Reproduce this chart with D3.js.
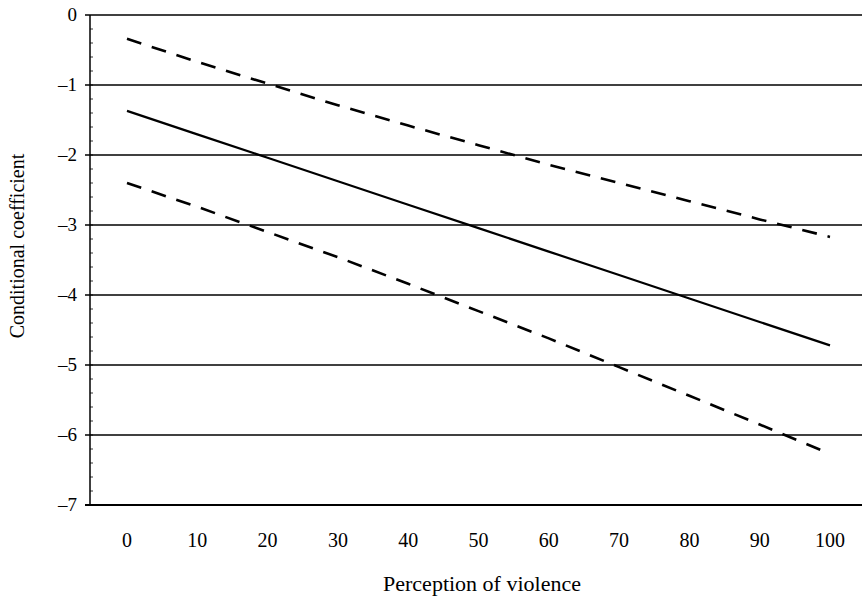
<!DOCTYPE html>
<meta charset="utf-8">
<style>
body { margin: 0; background: #fff; }
text { font-family: "Liberation Serif", "DejaVu Serif", serif; fill: #000; }
</style>
<body>
<svg width="863" height="604"></svg>
<script src="https://d3js.org/d3.v7.min.js"></script>
<script>
// perception of violence (x categories)
var xCats = [0, 10, 20, 30, 40, 50, 60, 70, 80, 90, 100];
// conditional coefficient and its bounds
var coef  = [-1.37, -1.705, -2.04, -2.375, -2.71, -3.045, -3.38, -3.715, -4.05, -4.385, -4.72];
var upper = [-0.34, -0.67, -0.98, -1.29, -1.58, -1.86, -2.14, -2.40, -2.66, -2.92, -3.17];
var lower = [-2.40, -2.74, -3.10, -3.46, -3.84, -4.23, -4.62, -5.03, -5.44, -5.85, -6.27];
var yTicks = [0, -1, -2, -3, -4, -5, -6, -7];

var svg = d3.select("svg");

var plotL = 90, plotR = 862, plotT = 15, plotB = 505;

var x = d3.scaleLinear().domain([0, 100]).range([127, 830]);
var y = d3.scaleLinear().domain([-7, 0]).range([plotB, plotT]);

// gridlines
svg.append("g")
  .selectAll("line")
  .data(yTicks)
  .enter().append("line")
    .attr("x1", plotL - 5)
    .attr("x2", plotR)
    .attr("y1", function(d) { return y(d); })
    .attr("y2", function(d) { return y(d); })
    .attr("stroke", "#000")
    .attr("stroke-width", function(d) { return d == -7 ? 2 : 1.4; });

// y axis line + minor ticks
svg.append("line")
  .attr("x1", plotL).attr("x2", plotL)
  .attr("y1", plotT).attr("y2", plotB)
  .attr("stroke", "#000").attr("stroke-width", 1.5);

svg.append("g")
  .selectAll("line")
  .data(d3.range(-7, 0, 0.2))
  .enter().append("line")
    .attr("x1", plotL)
    .attr("x2", plotL + 3)
    .attr("y1", function(d) { return y(d); })
    .attr("y2", function(d) { return y(d); })
    .attr("stroke", "#000")
    .attr("stroke-width", 0.8);

// y tick labels
svg.append("g")
  .selectAll("text")
  .data(yTicks)
  .enter().append("text")
    .attr("x", 77)
    .attr("y", function(d) { return y(d); })
    .attr("dy", "0.33em")
    .attr("text-anchor", "end")
    .attr("font-size", 19)
    .text(function(d) { return d == 0 ? "0" : "\u2013" + Math.abs(d); });

// x tick labels
svg.append("g")
  .selectAll("text")
  .data(xCats)
  .enter().append("text")
    .attr("x", function(d) { return x(d); })
    .attr("y", 547)
    .attr("text-anchor", "middle")
    .attr("font-size", 20)
    .text(function(d) { return d; });

// lines
var line = d3.line()
  .x(function(d, i) { return x(xCats[i]); })
  .y(function(d) { return y(d); });

svg.append("path")
  .attr("d", line(upper))
  .attr("fill", "none")
  .attr("stroke", "#000")
  .attr("stroke-width", 2.6)
  .attr("stroke-dasharray", "15,11");

svg.append("path")
  .attr("d", line(lower))
  .attr("fill", "none")
  .attr("stroke", "#000")
  .attr("stroke-width", 2.6)
  .attr("stroke-dasharray", "15,11");

svg.append("path")
  .attr("d", line(coef))
  .attr("fill", "none")
  .attr("stroke", "#000")
  .attr("stroke-width", 2.2);

// axis titles
svg.append("text")
  .attr("transform", "translate(24,246) rotate(-90)")
  .attr("text-anchor", "middle")
  .attr("font-size", 20)
  .text("Conditional coefficient");

svg.append("text")
  .attr("x", 482)
  .attr("y", 591)
  .attr("text-anchor", "middle")
  .attr("font-size", 22)
  .text("Perception of violence");
</script>
</body>
